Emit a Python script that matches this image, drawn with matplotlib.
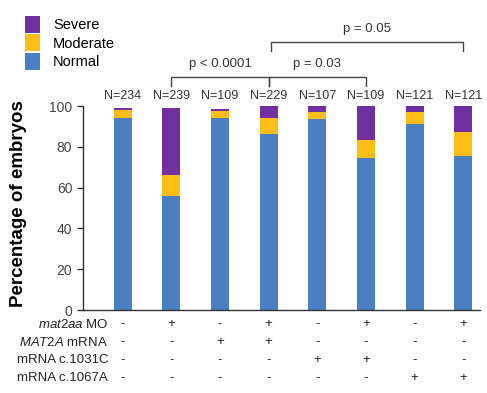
import matplotlib
matplotlib.use("Agg")
import matplotlib.pyplot as plt
import matplotlib.transforms as mtransforms
import numpy as np

plt.rcParams["font.family"] = ["Liberation Sans", "DejaVu Sans"]
plt.rcParams["mathtext.fontset"] = "custom"
plt.rcParams["mathtext.rm"] = "Liberation Sans"
plt.rcParams["mathtext.it"] = "Liberation Sans:italic"

# data
n_labels = ["N=234", "N=239", "N=109", "N=229", "N=107", "N=109", "N=121", "N=121"]
normal = [94, 56, 94, 86.5, 93.5, 74.5, 91, 75.5]
moderate = [4, 10, 3.5, 7.5, 3.5, 9, 6, 12]
severe = [1, 33, 1.3, 6, 3, 16.5, 3, 12.5]

row_labels = ["$\\mathit{mat2aa}$ MO", "$\\mathit{MAT2A}$ mRNA", "mRNA c.1031C", "mRNA c.1067A"]
rows = [
    ["-", "+", "-", "+", "-", "+", "-", "+"],
    ["-", "-", "+", "+", "-", "-", "-", "-"],
    ["-", "-", "-", "-", "+", "+", "-", "-"],
    ["-", "-", "-", "-", "-", "-", "+", "+"],
]

# (left bar, right bar, bracket height, text)
brackets = [
    (1, 3, 114.2, "p < 0.0001"),
    (3, 5, 114.2, "p = 0.03"),
    (3.05, 7, 131.5, "p = 0.05"),
]

BLUE = "#4a7fc1"
YELLOW = "#fbbd16"
PURPLE = "#7030a0"

fig = plt.figure(figsize=(4.87, 3.93), dpi=100)
ax = fig.add_axes([0.170, 0.211, 0.816, 0.519])

x = np.arange(len(normal))
w = 0.37
normal = np.array(normal)
moderate = np.array(moderate)
severe = np.array(severe)
b_sev = ax.bar(x, severe, w, bottom=normal + moderate, color=PURPLE, label="Severe")
b_mod = ax.bar(x, moderate, w, bottom=normal, color=YELLOW, label="Moderate")
b_nor = ax.bar(x, normal, w, color=BLUE, label="Normal")

ax.set_xlim(-0.82, 7.35)
ax.set_ylim(0, 100)
ax.set_yticks([0, 20, 40, 60, 80, 100])
ax.set_xticks([])
ax.tick_params(axis="y", labelsize=10, length=4, width=1, colors="#333333", labelcolor="#444444")
for s in ["top", "right"]:
    ax.spines[s].set_visible(False)
for s in ["left", "bottom"]:
    ax.spines[s].set_linewidth(1)
    ax.spines[s].set_color("#333333")
ax.set_ylabel("Percentage of embryos", fontsize=13.5, fontweight="bold")
ax.yaxis.set_label_coords(-0.14, 0.52)

for xi, lab in zip(x, n_labels):
    ax.text(xi, 104.9, lab, ha="center", va="center", fontsize=9, color="#333333", clip_on=False)

for x0, x1, yb, txt in brackets:
    drop = 4.5
    ax.plot([x0, x0, x1, x1], [yb - drop, yb, yb, yb - drop], color="#444444", lw=1, clip_on=False)
    ax.text((x0 + x1) / 2, yb + 3.6, txt, ha="center", va="bottom", fontsize=9.5, color="#333333", clip_on=False)

# condition table under the axis
trans = mtransforms.blended_transform_factory(ax.transData, fig.transFigure)
row_y = [324, 342, 360, 378]
for ry, lab, signs in zip(row_y, row_labels, rows):
    yf = 1 - ry / 393
    ax.text(-0.3, yf, lab, transform=trans, ha="right", va="center", fontsize=9.5, color="#222222", clip_on=False)
    for xi, sgn in zip(x, signs):
        ax.text(xi, yf, sgn, transform=trans, ha="center", va="center", fontsize=9.5, color="#222222", clip_on=False)

fig.legend(handles=[b_sev, b_mod, b_nor], loc="upper left", bbox_to_anchor=(0.04, 0.975),
           frameon=False, fontsize=10.5, handlelength=1.0, handleheight=1.45,
           labelspacing=0.08, handletextpad=0.9, borderaxespad=0)

fig.savefig("out.png", dpi=100)
